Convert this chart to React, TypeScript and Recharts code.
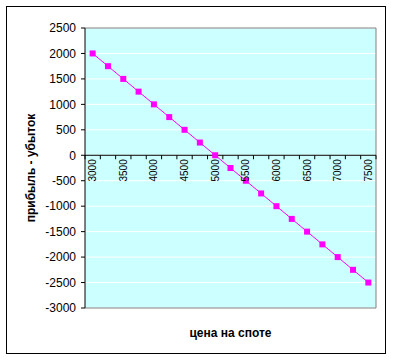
import { LineChart, Line, XAxis, YAxis, CartesianGrid, ReferenceLine } from 'recharts';

const prices = [3000, 3250, 3500, 3750, 4000, 4250, 4500, 4750, 5000, 5250, 5500, 5750, 6000, 6250, 6500, 6750, 7000, 7250, 7500];
const profit = [2000, 1750, 1500, 1250, 1000, 750, 500, 250, 0, -250, -500, -750, -1000, -1250, -1500, -1750, -2000, -2250, -2500];
const priceLabels = [3000, 3500, 4000, 4500, 5000, 5500, 6000, 6500, 7000, 7500];
const profitTicks = [-3000, -2500, -2000, -1500, -1000, -500, 0, 500, 1000, 1500, 2000, 2500];

const FONT = 'Arial, "Liberation Sans", sans-serif';
const W = 378;
const H = 346;
const M_TOP = 21;
const M_RIGHT = 9;
const Y_AXIS_W = 78;
const X_AXIS_H = 45;
const PLOT_H = H - M_TOP - X_AXIS_H;
const Y_MIN = -3000;
const Y_MAX = 2500;
const HALF = (prices[1] - prices[0]) / 2;
const X_MIN = prices[0] - HALF;
const X_MAX = prices[prices.length - 1] + HALF;

const boundaries = [X_MIN, ...prices.map((p) => p + HALF)];
const allTicks = [...boundaries, ...priceLabels];

const data = prices.map((p, i) => ({ price: p, profit: profit[i] }));

// y pixel of the zero line, the category axis sits there like in Excel
const zeroY = M_TOP + (PLOT_H * (Y_MAX - 0)) / (Y_MAX - Y_MIN);

function PriceTick(props: any) {
  const { x, payload } = props;
  const v = payload.value;
  if (priceLabels.includes(v)) {
    const ty = zeroY + 4;
    return (
      <text
        x={x}
        y={ty}
        dy="0.35em"
        textAnchor="end"
        transform={`rotate(-90, ${x}, ${ty})`}
        fontSize={10}
        fontFamily={FONT}
        fill="#000"
      >
        {v}
      </text>
    );
  }
  return <line x1={x} x2={x} y1={zeroY} y2={zeroY + 4} stroke="#000" strokeWidth={1} />;
}

function SquareDot(props: any) {
  const { cx, cy } = props;
  if (cx == null || cy == null) return null;
  return <rect x={cx - 3} y={cy - 3} width={6} height={6} fill="#FF00FF" />;
}

export default function App() {
  return (
    <div
      style={{
        position: 'absolute',
        left: 6,
        top: 6,
        width: W + 2,
        height: H + 2,
        border: '1px solid #000',
        boxSizing: 'border-box',
        background: '#fff',
      }}
    >
      <LineChart
        width={W}
        height={H}
        data={data}
        margin={{ top: M_TOP, right: M_RIGHT, left: 0, bottom: 0 }}
      >
        <CartesianGrid vertical={false} stroke="#fff" fill="#CCFFFF" fillOpacity={1} />
        <XAxis
          dataKey="price"
          type="number"
          domain={[X_MIN, X_MAX]}
          ticks={allTicks}
          interval={0}
          height={X_AXIS_H}
          axisLine={false}
          tickLine={false}
          tick={<PriceTick />}
          label={{
            value: 'цена на споте',
            position: 'center',
            dy: 2,
            fontSize: 12,
            fontWeight: 'bold',
            fontFamily: FONT,
            fill: '#000',
          }}
        />
        <YAxis
          domain={[Y_MIN, Y_MAX]}
          ticks={profitTicks}
          interval={0}
          width={Y_AXIS_W}
          stroke="#000"
          tickSize={4}
          tickMargin={5}
          tick={{ fill: '#000', fontSize: 12, fontFamily: FONT }}
          label={{
            value: 'прибыль - убыток',
            angle: -90,
            position: 'center',
            dx: -15,
            fontSize: 12,
            fontWeight: 'bold',
            fontFamily: FONT,
            fill: '#000',
          }}
        />
        <ReferenceLine y={Y_MAX} stroke="#808080" />
        <ReferenceLine y={Y_MIN} stroke="#808080" />
        <ReferenceLine x={X_MAX} stroke="#808080" />
        <ReferenceLine y={0} stroke="#000" />
        <Line
          dataKey="profit"
          type="linear"
          stroke="#FF00FF"
          strokeWidth={1}
          dot={<SquareDot />}
          isAnimationActive={false}
        />
      </LineChart>
    </div>
  );
}
